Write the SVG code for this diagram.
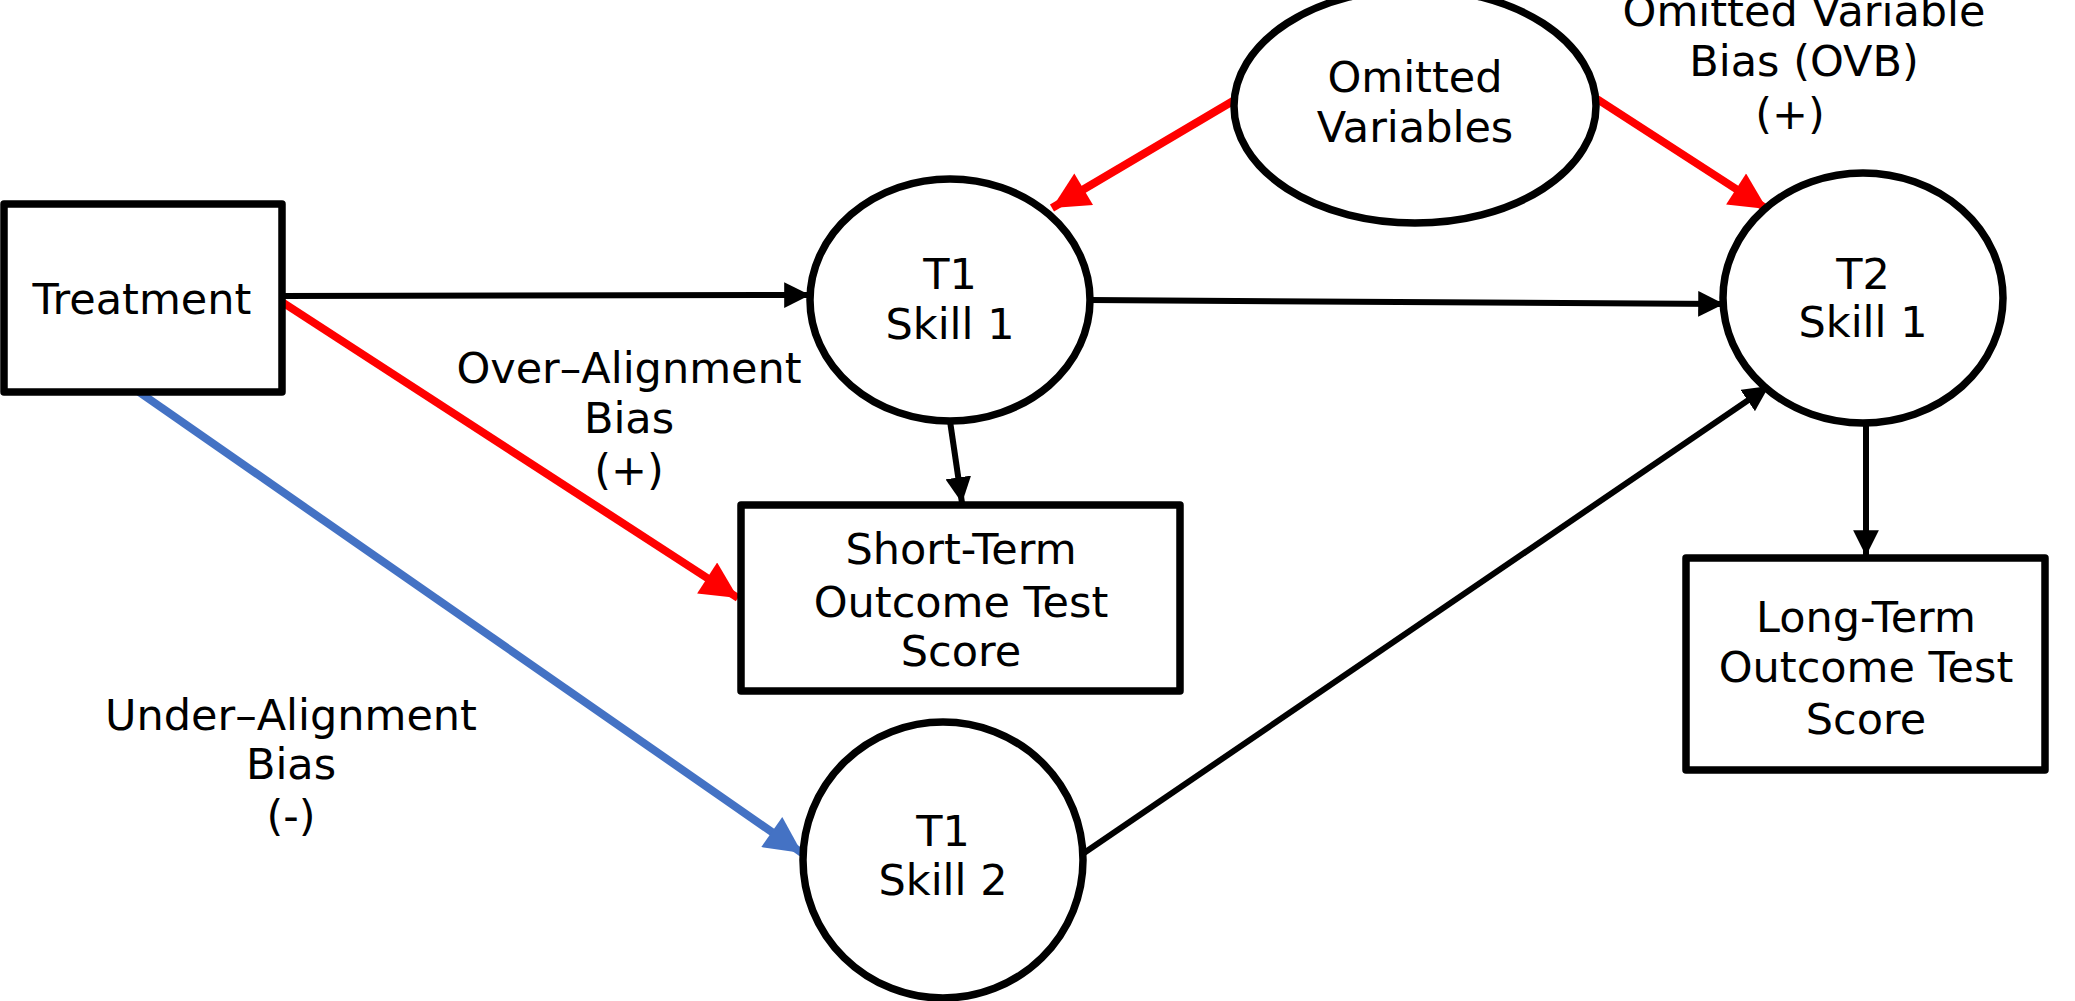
<svg xmlns="http://www.w3.org/2000/svg" width="2075" height="1001" viewBox="0 0 2075 1001">
<style>
.node{fill:#fff;stroke:#000;stroke-width:7.5;stroke-linejoin:round}
.t{font-family:"DejaVu Sans","Liberation Sans",sans-serif;font-size:43px;fill:#000;text-anchor:middle}
.blk{stroke:#000;stroke-width:6;fill:none}
.red{stroke:#ff0000;stroke-width:8;fill:none}
.blu{stroke:#4472c4;stroke-width:8;fill:none}
</style>
<defs>
<marker id="ab" viewBox="0 0 10 10" refX="10" refY="5" markerWidth="4.3" markerHeight="4.3" orient="auto" markerUnits="strokeWidth"><path d="M0,0 L10,5 L0,10 z" fill="#000"/></marker>
<marker id="ar" viewBox="0 0 10 10" refX="10" refY="5" markerWidth="5" markerHeight="4.6" orient="auto" markerUnits="strokeWidth"><path d="M0,0 L10,5 L0,10 z" fill="#ff0000"/></marker>
<marker id="au" viewBox="0 0 10 10" refX="10" refY="5" markerWidth="5" markerHeight="4.6" orient="auto" markerUnits="strokeWidth"><path d="M0,0 L10,5 L0,10 z" fill="#4472c4"/></marker>
</defs>
<rect width="2075" height="1001" fill="#fff"/>
<g id="connectors">
<line class="blk" x1="282" y1="296" x2="810" y2="295" marker-end="url(#ab)"/>
<line class="blk" x1="1090" y1="300" x2="1724" y2="304" marker-end="url(#ab)"/>
<line class="blk" x1="950" y1="421" x2="962" y2="503" marker-end="url(#ab)"/>
<line class="blk" x1="1866" y1="423" x2="1866" y2="556" marker-end="url(#ab)"/>
<line class="blk" x1="1084" y1="853" x2="1769" y2="386" marker-end="url(#ab)"/>
<line class="red" x1="282" y1="302" x2="738" y2="598" marker-end="url(#ar)"/>
<line class="red" x1="1233" y1="101" x2="1052" y2="208" marker-end="url(#ar)"/>
<line class="red" x1="1597" y1="99" x2="1767" y2="209" marker-end="url(#ar)"/>
<line class="blu" x1="139" y1="392" x2="802" y2="853" marker-end="url(#au)"/>
</g>
<g id="treatment">
<rect class="node" x="4" y="204" width="278" height="188"/>
<text class="t" x="142" y="314">Treatment</text>
</g>
<g id="t1skill1">
<ellipse class="node" cx="950" cy="300" rx="140" ry="121"/>
<text class="t" x="950" y="289">T1</text>
<text class="t" x="950" y="339">Skill 1</text>
</g>
<g id="omitted">
<ellipse class="node" cx="1415" cy="106" rx="181" ry="117"/>
<text class="t" x="1415" y="92">Omitted</text>
<text class="t" x="1415" y="142">Variables</text>
</g>
<g id="t2skill1">
<ellipse class="node" cx="1863" cy="298" rx="140" ry="125"/>
<text class="t" x="1863" y="289">T2</text>
<text class="t" x="1863" y="337">Skill 1</text>
</g>
<g id="t1skill2">
<ellipse class="node" cx="943" cy="860" rx="140" ry="138"/>
<text class="t" x="943" y="846">T1</text>
<text class="t" x="943" y="895">Skill 2</text>
</g>
<g id="shortterm">
<rect class="node" x="741" y="505" width="439" height="186"/>
<text class="t" x="961" y="564">Short-Term</text>
<text class="t" x="961" y="617">Outcome Test</text>
<text class="t" x="961" y="666">Score</text>
</g>
<g id="longterm">
<rect class="node" x="1686" y="558" width="359" height="212"/>
<text class="t" x="1866" y="632">Long-Term</text>
<text class="t" x="1866" y="682">Outcome Test</text>
<text class="t" x="1866" y="734">Score</text>
</g>
<g id="labels">
<text class="t" x="629" y="383">Over–Alignment</text>
<text class="t" x="629" y="433">Bias</text>
<text class="t" x="629" y="485">(+)</text>
<text class="t" x="291" y="730">Under–Alignment</text>
<text class="t" x="291" y="779">Bias</text>
<text class="t" x="291" y="831">(-)</text>
<text class="t" x="1804" y="26">Omitted Variable</text>
<text class="t" x="1804" y="76">Bias (OVB)</text>
<text class="t" x="1790" y="129">(+)</text>
</g>
</svg>
